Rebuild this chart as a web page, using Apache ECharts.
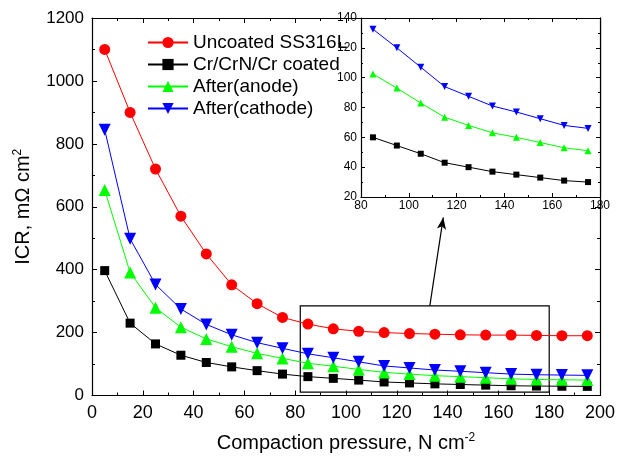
<!DOCTYPE html>
<html>
<head>
<meta charset="utf-8">
<script src="https://cdn.jsdelivr.net/npm/echarts@6/dist/echarts.min.js"></script>
<style>
  html, body { margin: 0; padding: 0; background: #fff; }
  #chart { width: 628px; height: 461px; }
</style>
</head>
<body>
<div id="chart"></div>
<script>
// Compaction pressure (N cm^-2) at which ICR was measured
const pressure = [5, 15, 25, 35, 45, 55, 65, 75, 85, 95, 105, 115, 125, 135, 145, 155, 165, 175, 185, 195];

// Interfacial contact resistance, mOhm cm^2
const uncoated = [1100, 900, 720, 570, 450, 352, 292, 248, 227, 212, 204, 200, 197, 195, 193, 192, 192, 191, 190, 190];
const crCoated = [397, 230, 164, 128, 105, 91, 79, 68, 60, 54.5, 49, 43, 40, 37, 35, 33, 31, 30, 29.5, 29];
const afterAnode = [653, 391, 279, 217, 180, 155, 134, 118, 102.5, 93, 83, 73.5, 68, 63, 60, 56.5, 53, 51, 50, 49];
const afterCathode = [845, 498, 353, 275, 226, 193, 168, 150, 132.5, 120, 107, 94, 87.5, 81, 77, 72.5, 68, 66, 65, 64];

// Range shown enlarged in the inset
const zoomFrom = 8, zoomTo = 18;

const seriesNames = ['Uncoated SS316L', 'Cr/CrN/Cr coated', 'After(anode)', 'After(cathode)'];

const FONT = '"Liberation Sans", Arial, sans-serif';
const downTri = 'path://M0,0 L10,0 L5,9 Z';

const pairs = (xs, ys) => xs.map((x, i) => [x, ys[i]]);
const plain = v => String(v);

const chart = echarts.init(document.getElementById('chart'), null, { renderer: 'canvas' });

const frameAxis = (grid, pos, min, max, interval, extra) => Object.assign({
  gridIndex: grid, position: pos, type: 'value', min: min, max: max, interval: interval,
  axisLine: { show: true, onZero: false, lineStyle: { color: '#000', width: 1.2 } },
  axisTick: { show: true, inside: true, length: 5, lineStyle: { color: '#000' } },
  minorTick: { show: true, splitNumber: 2, length: 3, lineStyle: { color: '#000' } },
  splitLine: { show: false },
  axisLabel: { show: false }
}, extra || {});

const mainLabel = (size, margin) => ({ show: true, color: '#000', fontFamily: FONT, fontSize: size, margin: margin, formatter: plain });
const insetLabel = (margin) => ({ show: true, color: '#000', fontFamily: FONT, fontSize: 12, margin: margin, formatter: plain });
const insetTick = { show: true, inside: true, length: 4, lineStyle: { color: '#000' } };
const insetMinor = { show: true, splitNumber: 2, length: 2, lineStyle: { color: '#000' } };

const option = {
  backgroundColor: '#fff',
  animation: false,
  textStyle: { fontFamily: FONT },
  grid: [
    { left: 92, right: 28, top: 18, bottom: 65.5 },
    { left: 361, right: 28, top: 18, bottom: 264, show: true, backgroundColor: '#fff', borderWidth: 0, z: 3 }
  ],
  legend: {
    data: seriesNames,
    orient: 'vertical',
    left: 147, top: 33, padding: 0,
    itemWidth: 40, itemHeight: 14, itemGap: 3,
    textStyle: { fontFamily: FONT, fontSize: 19, color: '#000' }
  },
  xAxis: [
    frameAxis(0, 'bottom', 0, 200, 20, {
      axisLabel: mainLabel(18, 9),
      name: 'Compaction pressure, N cm{sup|-2}', nameLocation: 'middle', nameGap: 36,
      nameTextStyle: { fontFamily: FONT, fontSize: 20, color: '#000', lineHeight: 24,
        rich: { sup: { fontFamily: FONT, fontSize: 12, verticalAlign: 'top', lineHeight: 12, color: '#000' } } }
    }),
    frameAxis(0, 'top', 0, 200, 20),
    frameAxis(1, 'bottom', 80, 180, 20, { axisLabel: insetLabel(3), axisTick: insetTick, minorTick: insetMinor, z: 4 }),
    frameAxis(1, 'top', 80, 180, 20, { axisTick: insetTick, minorTick: insetMinor, z: 4 })
  ],
  yAxis: [
    frameAxis(0, 'left', 0, 1200, 200, {
      axisLabel: mainLabel(17, 8),
      name: 'ICR, m\u03A9 cm{sup|2}', nameLocation: 'middle', nameGap: 56, nameRotate: 90,
      nameTextStyle: { fontFamily: FONT, fontSize: 20, color: '#000', lineHeight: 24,
        rich: { sup: { fontFamily: FONT, fontSize: 12, verticalAlign: 'top', lineHeight: 12, color: '#000' } } }
    }),
    frameAxis(0, 'right', 0, 1200, 200),
    frameAxis(1, 'left', 20, 140, 20, { axisLabel: insetLabel(4), axisTick: insetTick, minorTick: insetMinor, z: 4 }),
    frameAxis(1, 'right', 20, 140, 20, { axisTick: insetTick, minorTick: insetMinor, z: 4 })
  ],
  series: [
    {
      name: seriesNames[0], type: 'line', xAxisIndex: 0, yAxisIndex: 0,
      data: pairs(pressure, uncoated),
      symbol: 'circle', symbolSize: 11,
      itemStyle: { color: '#ff0000' }, lineStyle: { color: '#ff0000', width: 1 },
      // box around the enlarged range and the pointer to the inset
      markArea: {
        silent: true,
        itemStyle: { color: 'rgba(0,0,0,0)', borderColor: '#000', borderWidth: 1.2 },
        data: [[{ coord: [82, 285] }, { coord: [180, 11] }]]
      },
      markLine: {
        silent: true, symbol: ['none', 'arrow'], symbolSize: [7, 12],
        lineStyle: { color: '#000', width: 1.2, type: 'solid' },
        label: { show: false },
        data: [[{ coord: [133, 285] }, { coord: [138.3, 566] }]]
      }
    },
    {
      name: seriesNames[1], type: 'line', xAxisIndex: 0, yAxisIndex: 0,
      data: pairs(pressure, crCoated),
      symbol: 'rect', symbolSize: 9,
      itemStyle: { color: '#000000' }, lineStyle: { color: '#000000', width: 1 }
    },
    {
      name: seriesNames[2], type: 'line', xAxisIndex: 0, yAxisIndex: 0,
      data: pairs(pressure, afterAnode),
      symbol: 'triangle', symbolSize: 12,
      itemStyle: { color: '#00ff00' }, lineStyle: { color: '#00ff00', width: 1 }
    },
    {
      name: seriesNames[3], type: 'line', xAxisIndex: 0, yAxisIndex: 0,
      data: pairs(pressure, afterCathode),
      symbol: downTri, symbolSize: 12,
      itemStyle: { color: '#0000ff' }, lineStyle: { color: '#0000ff', width: 1 }
    },
    // inset: 85-175 N cm^-2 enlarged
    {
      name: 'inset-coated', type: 'line', xAxisIndex: 2, yAxisIndex: 2, z: 5,
      data: pairs(pressure.slice(zoomFrom, zoomTo), crCoated.slice(zoomFrom, zoomTo)),
      symbol: 'rect', symbolSize: 6,
      itemStyle: { color: '#000000' }, lineStyle: { color: '#000000', width: 1 }
    },
    {
      name: 'inset-anode', type: 'line', xAxisIndex: 2, yAxisIndex: 2, z: 5,
      data: pairs(pressure.slice(zoomFrom, zoomTo), afterAnode.slice(zoomFrom, zoomTo)),
      symbol: 'triangle', symbolSize: 7,
      itemStyle: { color: '#00ff00' }, lineStyle: { color: '#00ff00', width: 1 }
    },
    {
      name: 'inset-cathode', type: 'line', xAxisIndex: 2, yAxisIndex: 2, z: 5,
      data: pairs(pressure.slice(zoomFrom, zoomTo), afterCathode.slice(zoomFrom, zoomTo)),
      symbol: downTri, symbolSize: 7,
      itemStyle: { color: '#0000ff' }, lineStyle: { color: '#0000ff', width: 1 }
    }
  ]
};

chart.setOption(option);
</script>
</body>
</html>
